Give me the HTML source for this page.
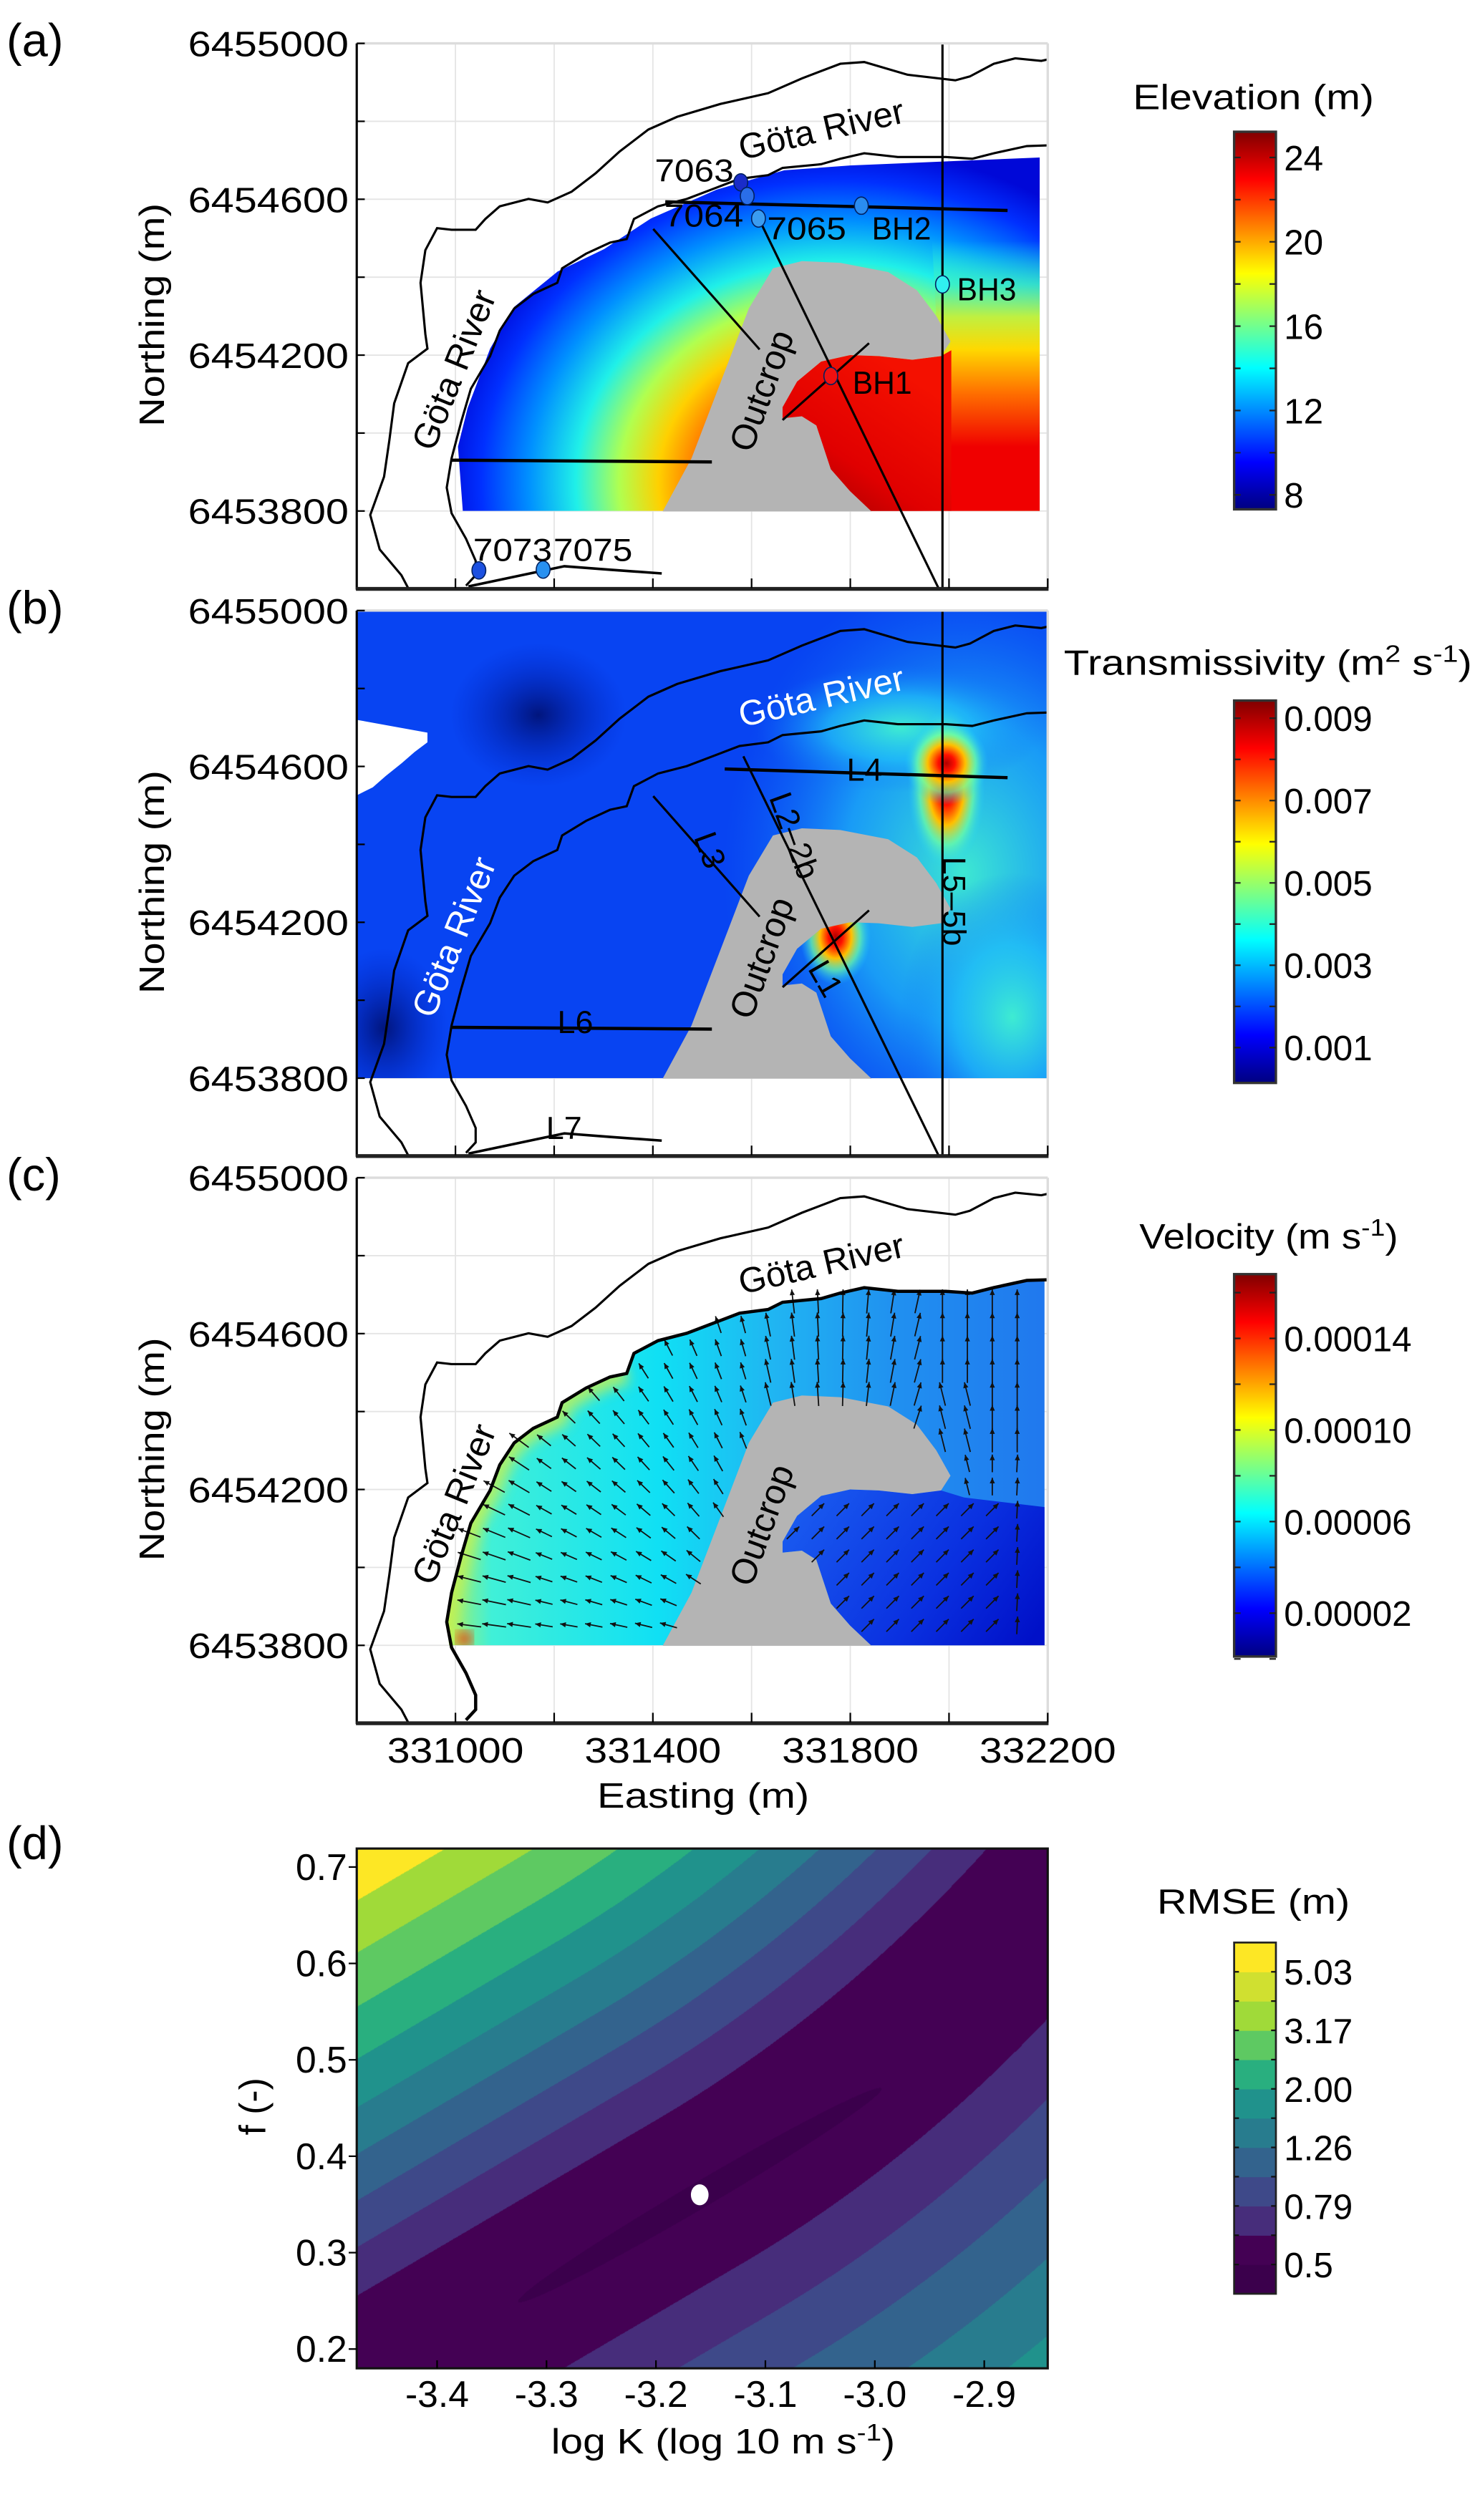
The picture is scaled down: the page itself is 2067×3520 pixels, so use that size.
<!DOCTYPE html>
<html><head><meta charset="utf-8"><title>Figure</title>
<style>
html,body{margin:0;padding:0;background:#fff;}
#wrap{position:relative;width:2067px;height:3520px;overflow:hidden;background:#fff;}
#cv{position:absolute;left:498.2px;top:2582.1px;width:965px;height:726px;}
#fig{position:absolute;left:0;top:0;}
text{font-family:"Liberation Sans",Arial,sans-serif;fill:#000;}
</style></head>
<body>
<div id="wrap">
<canvas id="cv" width="965" height="726"></canvas>
<svg id="fig" width="2067" height="3520" viewBox="0 0 921 1568.4" preserveAspectRatio="none" xmlns="http://www.w3.org/2000/svg">
<defs>
<linearGradient id="jet" x1="0" y1="0" x2="0" y2="1">
<stop offset="0" stop-color="#800000"/><stop offset="0.125" stop-color="#ff0000"/><stop offset="0.375" stop-color="#ffff00"/><stop offset="0.5" stop-color="#80ff80"/><stop offset="0.625" stop-color="#00ffff"/><stop offset="0.875" stop-color="#0000ff"/><stop offset="1" stop-color="#000080"/>
</linearGradient>
<radialGradient id="gElev" gradientUnits="userSpaceOnUse" cx="520" cy="300" r="245" gradientTransform="translate(520 300) scale(1 0.85) translate(-520 -300)">
<stop offset="0" stop-color="#e00000"/><stop offset="0.3" stop-color="#ff4000"/><stop offset="0.45" stop-color="#ffd000"/><stop offset="0.55" stop-color="#b0ff50"/><stop offset="0.66" stop-color="#20f0e8"/><stop offset="0.78" stop-color="#0090ff"/><stop offset="0.9" stop-color="#0030ff"/><stop offset="1" stop-color="#0008d8"/>
</radialGradient>
<linearGradient id="gRight" gradientUnits="userSpaceOnUse" x1="0" y1="150" x2="0" y2="285">
<stop offset="0" stop-color="#20f0e0" stop-opacity="0"/><stop offset="0.2" stop-color="#40f0c0" stop-opacity="0.8"/><stop offset="0.35" stop-color="#c0f040"/><stop offset="0.5" stop-color="#ffd800"/><stop offset="0.7" stop-color="#ff7000"/><stop offset="0.95" stop-color="#f00000"/><stop offset="1" stop-color="#f00000"/>
</linearGradient>
<linearGradient id="gHook" gradientUnits="userSpaceOnUse" x1="500" y1="320" x2="560" y2="230">
<stop offset="0" stop-color="#a00000"/><stop offset="0.4" stop-color="#e00000"/><stop offset="1" stop-color="#f41000"/>
</linearGradient>
<radialGradient id="hot" cx="0.5" cy="0.5" r="0.5">
<stop offset="0" stop-color="#b00000"/><stop offset="0.2" stop-color="#ff1000"/><stop offset="0.45" stop-color="#ffc000"/><stop offset="0.7" stop-color="#70ffa0" stop-opacity="0.7"/><stop offset="1" stop-color="#20d0ff" stop-opacity="0"/>
</radialGradient>
<radialGradient id="glow" cx="0.5" cy="0.5" r="0.5">
<stop offset="0" stop-color="#40f0d0" stop-opacity="0.95"/><stop offset="0.5" stop-color="#20c0f8" stop-opacity="0.7"/><stop offset="1" stop-color="#1070f8" stop-opacity="0"/>
</radialGradient>
<radialGradient id="dark" cx="0.5" cy="0.5" r="0.5">
<stop offset="0" stop-color="#001070" stop-opacity="0.9"/><stop offset="1" stop-color="#0020c0" stop-opacity="0"/>
</radialGradient>
<linearGradient id="gVel" gradientUnits="userSpaceOnUse" x1="280" y1="0" x2="650" y2="0">
<stop offset="0" stop-color="#a0f070"/><stop offset="0.07" stop-color="#40f0d8"/><stop offset="0.35" stop-color="#10e0f4"/><stop offset="0.55" stop-color="#20b4f2"/><stop offset="0.75" stop-color="#2090f0"/><stop offset="1" stop-color="#2078ee"/>
</linearGradient>
<linearGradient id="gVelDark" gradientUnits="userSpaceOnUse" x1="500" y1="220" x2="640" y2="318">
<stop offset="0" stop-color="#1a5cf0"/><stop offset="0.6" stop-color="#0a30e0"/><stop offset="1" stop-color="#0010c8"/>
</linearGradient>
<filter id="blur"><feGaussianBlur stdDeviation="4"/></filter>
</defs>
<g id="panels"></g>
<g id="pd"></g>
</svg>
</div>
<script>
// ---------- Panel (d) data ----------
const rmseLevels = [5.03, 3.17, 2.00, 1.26, 0.79, 0.5];
const rmseColors = ["#3b004c","#440154","#472d7b","#3e4989","#33638d","#287c8e","#20928c","#29af7f","#5ec962","#a0da39","#d0e030","#fde725"];
const edgesNeg = [54, 80, 105, 130, 155, 181, 209, 238, 266];
const edgesPos = [50, 86, 122, 160, 197, 235, 272, 310, 348];
const logKTicks = [-3.4, -3.3, -3.2, -3.1, -3.0, -2.9];
const fTicks = [0.7, 0.6, 0.5, 0.4, 0.3, 0.2];
const bestFit = [-3.16, 0.36];
// ---------- Map colorbar data ----------
const elevTicks = [24, 20, 16, 12, 8];
const transTicks = ["0.009","0.007","0.005","0.003","0.001"];
const velTicks = ["0.00014","0.00010","0.00006","0.00002"];
const eastTicks = [331000, 331400, 331800, 332200];
const northTicks = [6455000, 6454600, 6454200, 6453800];

const NS = 'http://www.w3.org/2000/svg';
function mk(parent, tag, attrs, txt){
  const e = document.createElementNS(NS, tag);
  for (const k in attrs) e.setAttribute(k, attrs[k]);
  if (txt !== undefined) e.textContent = txt;
  parent.appendChild(e);
  return e;
}
function pts(a){return a.map(p=>p[0]+','+p[1]).join(' ');}
function fit(e,len){e.setAttribute('textLength',len);e.setAttribute('lengthAdjust','spacingAndGlyphs');}

const xE = E => 222 + (E - 330800) * 0.30714;
const yN = N => 27 + (6455000 - N) * 0.24253;
const xK = k => 272 + (k + 3.4) * 681;
const yF = f => 1162 + (0.7 - f) * 600;

const outer=[[652,37],[648,37.9],[631.8,36.3],[618.4,39.7],[603.5,47.6],[594.5,50],[564.7,46.5],[537.8,38.6],[522.9,39.7],[499,48.8],[478,58],[448.3,64.7],[421.4,72.7],[403.5,80.6],[385.6,94.3],[370.6,107.9],[355.7,119.3],[340.8,126],[328.9,123.8],[311,128.4],[302,136.3],[296,143],[281,143],[272,142],[264.7,155.7],[261.7,176],[264.7,208],[266,217],[254,226],[245.3,251],[242.3,274],[239,296.7],[230.4,320.5],[236.3,342],[249.8,358],[254,366]];
const inner=[[652,90.5],[639,90.9],[618.4,95.4],[605,98.8],[588.6,97.7],[558.7,97.7],[537.8,95.4],[522.9,98.8],[511,102.2],[487,104.5],[478,109],[460.2,111.3],[445.3,117],[427.4,123.8],[409.5,128.4],[394.5,136.3],[390,148.8],[379.6,151],[364.7,157.9],[349.8,167],[346.8,176],[331.8,183],[320,192],[311,205.7],[305,221.6],[293,242],[287,262.5],[281,285.3],[278,303.5],[281,319.4],[290,335.3],[296,349],[296,358],[290,364.5]];
const regionA=[[647,98],[600,100],[529,103],[488,106],[446,118],[405,136],[376,155],[347,169],[320,191],[305,217],[291,254],[285,278],[288,318],[647,318]];
const regionC=inner.slice(0,29).concat([[279.5,318],[650,318],[650,90.5]]);
const outcrop=[[412.4,318.3],[430.3,285.3],[451.2,230.7],[466,192],[481,167],[499,162.5],[522.9,163.6],[552.7,169.3],[570.6,180.7],[582.6,196.6],[591.5,212.5],[585.6,221.6],[567.7,223.9],[546.8,221.6],[529,221],[511,225],[496,237.5],[487,253.4],[487,260.3],[499,259.1],[508,264.8],[517,292],[529,305.7],[542.3,318.3]];
const hookRed=[[511,225],[529,221],[546.8,221.6],[567.7,223.9],[585.6,221.6],[592,218],[592,318],[542.3,318.3],[529,305.7],[517,292],[508,264.8],[499,259.1],[487,260.3],[487,253.4],[496,237.5]];
const rightFade=[[580,150],[647,150],[647,318],[590,318],[590,222],[591.5,212.5],[582.6,196.6]];
const velDark=[[511,225],[529,221],[546.8,221.6],[567.7,223.9],[585.6,221.6],[600,226],[650,232],[650,318],[542.3,318.3],[529,305.7],[517,292],[508,264.8],[499,259.1],[487,260.3],[487,253.4],[496,237.5]];

function inPoly(x,y,poly){let c=false;for(let i=0,j=poly.length-1;i<poly.length;j=i++){const xi=poly[i][0],yi=poly[i][1],xj=poly[j][0],yj=poly[j][1];if(((yi>y)!=(yj>y))&&(x<(xj-xi)*(y-yi)/(yj-yi)+xi))c=!c;}return c;}

const panelsG = document.getElementById('panels');
const offsets=[0,353,706];
const letters=['(a)','(b)','(c)'];
const names=['elevation','transmissivity','velocity'];

offsets.forEach((off,pi)=>{
  const g = mk(panelsG,'g',{transform:'translate(0 '+off+')'});
  
  
  const cid='clip'+pi;
  const cp=mk(g,'clipPath',{id:cid}); mk(cp,'rect',{x:222,y:27,width:430,height:339});
  const did='dclip'+pi;
  const dp=mk(g,'clipPath',{id:did}); mk(dp,'rect',{x:222,y:27,width:430,height:291});
  for(let E=331000;E<=332000;E+=200){mk(g,'line',{x1:xE(E),y1:27,x2:xE(E),y2:366,stroke:'#e4e4e4','stroke-width':0.8});}
  for(let N=6455000;N>=6453800;N-=200){mk(g,'line',{x1:222,y1:yN(N),x2:652,y2:yN(N),stroke:'#e4e4e4','stroke-width':0.8});}
  const data = mk(g,'g',{'clip-path':'url(#'+did+')'});
  
  
  if(pi===0){
    mk(data,'polygon',{points:pts(regionA),fill:'url(#gElev)'});
    mk(data,'polygon',{points:pts(rightFade),fill:'url(#gRight)'});
    mk(data,'polygon',{points:pts(hookRed),fill:'url(#gHook)'});
  } else if(pi===1){
    mk(data,'rect',{x:222,y:27,width:430,height:291,fill:'#0844f2'});
    mk(data,'ellipse',{cx:600,cy:190,rx:150,ry:190,fill:'url(#glow)'});
    mk(data,'ellipse',{cx:630,cy:280,rx:70,ry:90,fill:'url(#glow)'});
    mk(data,'ellipse',{cx:560,cy:100,rx:90,ry:40,fill:'url(#glow)'});
    mk(data,'ellipse',{cx:335,cy:92,rx:55,ry:45,fill:'url(#dark)'});
    mk(data,'ellipse',{cx:239,cy:287,rx:40,ry:50,fill:'url(#dark)'});
    mk(data,'ellipse',{cx:589,cy:138,rx:24,ry:50,fill:'url(#hot)'});
    mk(data,'ellipse',{cx:589,cy:122,rx:26,ry:26,fill:'url(#hot)'});
    mk(data,'ellipse',{cx:520,cy:230,rx:22,ry:30,fill:'url(#hot)'});
    mk(data,'polygon',{points:'222,95 266,103 266,109 258,115 250,122 240,130 232,137 222,142',fill:'#fff'});
  } else {
    mk(data,'polygon',{points:pts(regionC),fill:'url(#gVel)'});
    const cc=mk(g,'clipPath',{id:'clipRegC'}); mk(cc,'polygon',{points:pts(regionC)});
    const gs=mk(data,'g',{'clip-path':'url(#clipRegC)'});
    mk(gs,'polyline',{points:pts(inner.slice(16,30)),fill:'none',stroke:'#c8f050','stroke-width':14,filter:'url(#blur)',opacity:0.8});
    mk(gs,'ellipse',{cx:289,cy:314,rx:5,ry:5,fill:'#f03000',filter:'url(#blur)'});
    mk(data,'polygon',{points:pts(velDark),fill:'url(#gVelDark)'});
  }
  const oc=mk(g,'polygon',{points:pts(outcrop),fill:'#b4b4b4'});
  
  
  if(pi===2){
    const ag=mk(g,'g',{});
    
    
    for(let y=104;y<=316;y+=14.4){
      for(let x=292;x<=646;x+=15.5){
        if(!inPoly(x,y,regionC)||inPoly(x,y,outcrop))continue;
        let dx,dy;
        if(x>487&&y>228&&x<620){dx=0.7;dy=-0.7;}
        else if(x>=620&&y>200){dx=0.05;dy=-1;}
        else if(x>575){dx=(x<615&&y>150)?-0.25:0;dy=-1;}
        else {dx=x-520;dy=y-335;}
        const L=Math.hypot(dx,dy);dx/=L;dy/=L;
        const len=(x<330)?15:(x>470&&y<200?15:11);
        const x1=x-dx*len/2,y1=y-dy*len/2,x2=x+dx*len/2,y2=y+dy*len/2;
        mk(ag,'line',{x1:x1,y1:y1,x2:x2,y2:y2,stroke:'#111','stroke-width':0.8});
        const px=-dy,py=dx;
        mk(ag,'polygon',{points:x2+','+y2+' '+(x2-dx*3.5+px*1.6)+','+(y2-dy*3.5+py*1.6)+' '+(x2-dx*3.5-px*1.6)+','+(y2-dy*3.5-py*1.6),fill:'#111'});
      }
    }
  }
  const lg=mk(g,'g',{'clip-path':'url(#'+cid+')'});
  const r1=mk(lg,'polyline',{points:pts(outer),fill:'none',stroke:'#000','stroke-width':1.4});
  
  
  const r2=mk(lg,'polyline',{points:pts(inner),fill:'none',stroke:'#000','stroke-width':pi===2?2:1.4});
  
  
  if(pi<2){
    const tg=mk(lg,'g',{stroke:'#000',fill:'none'});
    
    
    mk(tg,'line',{x1:pi===0?414:451,y1:125.6,x2:627,y2:131,'stroke-width':2});
    mk(tg,'line',{x1:406.5,y1:142.5,x2:472.7,y2:217.5,'stroke-width':1.4});
    mk(tg,'line',{x1:pi===0?473:462.6,y1:pi===0?137.7:117.7,x2:584,y2:366,'stroke-width':1.4});
    mk(tg,'line',{x1:586.5,y1:27,x2:586.5,y2:366,'stroke-width':1.4});
    mk(tg,'line',{x1:540.8,y1:213.6,x2:487,y2:261.4,'stroke-width':1.4});
    mk(tg,'line',{x1:281,y1:286.4,x2:443,y2:287.5,'stroke-width':2});
    mk(tg,'polyline',{points:'291.5,365 351.2,352.4 379.6,354.6 411.8,356.9','stroke-width':1.6});
  }
  const labCol = pi===1?'#fff':'#000';
  const t1=mk(g,'text',{x:511,y:88,'font-size':22,'text-anchor':'middle',transform:'rotate(-13 511 80)',style:'fill:'+labCol},'Göta River');
  
  
  const t2=mk(g,'text',{x:282,y:238,'font-size':22,'text-anchor':'middle',transform:'rotate(-68 282 230)',style:'fill:'+labCol},'Göta River');
  
  
  const t3=mk(g,'text',{x:473.5,y:251,'font-size':22,'text-anchor':'middle',transform:'rotate(-70 473.5 243)'},'Outcrop');
  
  
  if(pi===0){
    const wells=[['7063',461,113.5,'#1a2cc8'],['7064',465,122,'#2a6ee8'],['7065',472,136,'#3a9cf0'],['BH2',536,128,'#2a8cf0'],['BH3',586.5,177,'#30f0f0'],['BH1',517,234,'#f01010'],['7073',298,355,'#1c50e0'],['7075',338,354.5,'#2890f0']];
    wells.forEach(w=>{
      const m=mk(g,'ellipse',{cx:w[1],cy:w[2],rx:4.3,ry:5.4,fill:w[3],stroke:'#002060','stroke-width':0.7});
      
      
    });
    const wl=[['7063',432,113],['7064',438,141],['7065',502,149],['BH2',561,149],['BH3',614,187],['BH1',549,245],['7073',319,349],['7075',369,349]];
    wl.forEach(w=>{
      const t=mk(g,'text',{x:w[1],y:w[2],'font-size':20,'text-anchor':'middle'},w[0]);
      fit(t, w[0].length*12.3);
      
      
    });
  }
  if(pi===1){
    const tl=[['L4',538,126,0],['L3',442,176,70],['L2–2b',494.5,167,70],['L5–5b',594,208,90],['L1',514,256,60],['L6',358,283,0],['L7',351,349,0]];
    tl.forEach(t=>{
      const e=mk(g,'text',{x:t[1],y:t[2]+7,'font-size':20,'text-anchor':'middle',transform:'rotate('+t[3]+' '+t[1]+' '+t[2]+')'},t[0]);
      
      
    });
  }
  mk(g,'line',{x1:222,y1:27,x2:652,y2:27,stroke:'#dcdcdc','stroke-width':1.5});
  mk(g,'line',{x1:652,y1:27,x2:652,y2:366,stroke:'#dcdcdc','stroke-width':1.5});
  const ya=mk(g,'line',{x1:222,y1:27,x2:222,y2:367,stroke:'#000','stroke-width':1.4});
  
  
  const xa=mk(g,'line',{x1:221.5,y1:366.5,x2:652.5,y2:366.5,stroke:'#222','stroke-width':2.4});
  
  
  for(let E=331000;E<=332200;E+=200){mk(g,'line',{x1:xE(E),y1:366,x2:xE(E),y2:360,stroke:'#000','stroke-width':1});}
  for(let N=6455000;N>=6453800;N-=200){mk(g,'line',{x1:222,y1:yN(N),x2:227,y2:yN(N),stroke:'#000','stroke-width':1});}
  northTicks.forEach(N=>{
    const t=mk(g,'text',{x:217,y:yN(N)+8,'font-size':22,'text-anchor':'end'},String(N));
    fit(t,100);
    
    
  });
  const yt=mk(g,'text',{x:102,y:196,'font-size':22,'text-anchor':'middle',transform:'rotate(-90 102 196)'},'Northing (m)');
  fit(yt,139);
  
  
  const pl=mk(g,'text',{x:4,y:35,'font-size':29},letters[pi]);
  
  
  if(pi===2){
    eastTicks.forEach(E=>{
      const t=mk(g,'text',{x:xE(E),y:391,'font-size':22,'text-anchor':'middle'},String(E));
      fit(t,85);
      
      
    });
    const xt=mk(g,'text',{x:437.6,y:419,'font-size':22,'text-anchor':'middle'},'Easting (m)');
    fit(xt,132);
    
    
  }
});

const svgRoot=document.getElementById('fig');
function colorbar(name, top, bottom, labels, yLabel, title, titleX, titleY, titleLen, tickYs){
  const g=mk(svgRoot,'g',{});
  
  
  mk(g,'rect',{x:768,y:top,width:26,height:bottom-top,fill:'url(#jet)',stroke:'#333','stroke-width':1.5});
  tickYs.forEach(y=>{mk(g,'line',{x1:768,y1:y,x2:772,y2:y,stroke:'#222','stroke-width':1});mk(g,'line',{x1:790,y1:y,x2:794,y2:y,stroke:'#222','stroke-width':1});});
  labels.forEach((l,i)=>{
    const t=mk(g,'text',{x:799,y:yLabel(i)+8,'font-size':22},String(l));
    
    
  });
  const tt=mk(g,'text',{x:titleX,y:titleY,'font-size':22,'text-anchor':'start'});
  tt.innerHTML=title;
  fit(tt,titleLen);
  
  
}
const yElev=v=>308-(v-8)*(210/16);
colorbar('elevation-colorbar',82,317,elevTicks,i=>yElev(elevTicks[i]),'Elevation (m)',705,68,150,[8,10,12,14,16,18,20,22,24].map(yElev));
const yTrans=i=>447+i*51.25;
colorbar('transmissivity-colorbar',436,674,transTicks,yTrans,'Transmissivity (m<tspan dy="-8" font-size="15">2</tspan><tspan dy="8"> s</tspan><tspan dy="-8" font-size="15">-1</tspan><tspan dy="8">)</tspan>',662,420,254,[0,0.5,1,1.5,2,2.5,3,3.5,4].map(k=>447+k*51.25));
const yVel=i=>833+i*57;
colorbar('velocity-colorbar',793,1031,velTicks,yVel,'Velocity (m s<tspan dy="-8" font-size="15">-1</tspan><tspan dy="8">)</tspan>',709,777,161,[-0.5,0,0.5,1,1.5,2,2.5,3,3.5].map(k=>833+k*57));

// ---------- Panel (d) ----------
const pd=document.getElementById('pd');


(function drawField(){
  const cv=document.getElementById('cv'),ctx=cv.getContext('2d');
  const img=ctx.createImageData(cv.width,cv.height);
  const rgb=rmseColors.map(h=>[parseInt(h.substr(1,2),16),parseInt(h.substr(3,2),16),parseInt(h.substr(5,2),16)]);
  const cx=xK(bestFit[0]),cy=yF(bestFit[1]);
  const s=2.24426;
  for(let py=0;py<cv.height;py++){
    for(let px=0;px<cv.width;px++){
      const x=222+px/s,y=1150.5+py/s;
      const v=(x-cx)*0.506+(y-cy)*0.862;
      const u=(x-cx)*0.862-(y-cy)*0.506;
      let band;
      if((u/131)*(u/131)+(v/8)*(v/8)<1) band=0;
      else{
        const v0 = u>0 ? -0.0006*u*u : 0;
        const d = v - v0;
        const edges = d<0 ? edgesNeg : edgesPos;
        const ad=Math.abs(d);
        band=1;for(let k=0;k<edges.length;k++){if(ad>=edges[k])band=k+2;}
      }
      const ci = band>=10 ? 11 : band;
      const c=rgb[ci];
      const o=(py*cv.width+px)*4;
      img.data[o]=c[0];img.data[o+1]=c[1];img.data[o+2]=c[2];img.data[o+3]=255;
    }
  }
  ctx.putImageData(img,0,0);
})();
const box=mk(pd,'rect',{x:222,y:1150.5,width:430,height:323.5,fill:'none',stroke:'#111','stroke-width':1.4});


const dot=mk(pd,'ellipse',{cx:xK(bestFit[0]),cy:yF(bestFit[1]),rx:5.5,ry:6.5,fill:'#fff'});


logKTicks.forEach(k=>{
  mk(pd,'line',{x1:xK(k),y1:1474,x2:xK(k),y2:1469,stroke:'#000','stroke-width':1});
  const t=mk(pd,'text',{x:xK(k),y:1498,'font-size':23,'text-anchor':'middle'},k.toFixed(1));
  
  
});
fTicks.forEach(f=>{
  mk(pd,'line',{x1:217,y1:yF(f),x2:222,y2:yF(f),stroke:'#000','stroke-width':1});
  const t=mk(pd,'text',{x:216,y:yF(f)+8,'font-size':23,'text-anchor':'end'},f.toFixed(1));
  
  
});
const xtd=mk(pd,'text',{x:450,y:1527,'font-size':22,'text-anchor':'middle'});
xtd.innerHTML='log K (log 10 m s<tspan dy="-8" font-size="15">-1</tspan><tspan dy="8">)</tspan>';
fit(xtd,214);


const ytd=mk(pd,'text',{x:165,y:1311,'font-size':23,'text-anchor':'middle',transform:'rotate(-90 165 1311)'},'f (-)');


const pld=mk(pd,'text',{x:4,y:1157,'font-size':29},'(d)');


const cbd=mk(pd,'g',{});


const cbTop=1209,cbH=218.6,bandH=cbH/12;
rmseColors.forEach((c,i)=>{
  const r=mk(cbd,'rect',{x:768,y:cbTop+cbH-(i+1)*bandH,width:26,height:bandH+0.3,fill:c});
  
  
});
mk(cbd,'rect',{x:768,y:cbTop,width:26,height:cbH,fill:'none',stroke:'#222','stroke-width':1.2});
for(let i=1;i<12;i++){const y=cbTop+i*bandH;mk(cbd,'line',{x1:768,y1:y,x2:771,y2:y,stroke:'#111','stroke-width':1});mk(cbd,'line',{x1:791,y1:y,x2:794,y2:y,stroke:'#111','stroke-width':1});}
rmseLevels.forEach((l,i)=>{
  const t=mk(cbd,'text',{x:799,y:cbTop+(1+2*i)*bandH+8,'font-size':22},l.toFixed(i===5?1:2));
  
  
});
const rt=mk(cbd,'text',{x:720,y:1191,'font-size':22},'RMSE (m)');
fit(rt,120);


</script>
</body></html>
